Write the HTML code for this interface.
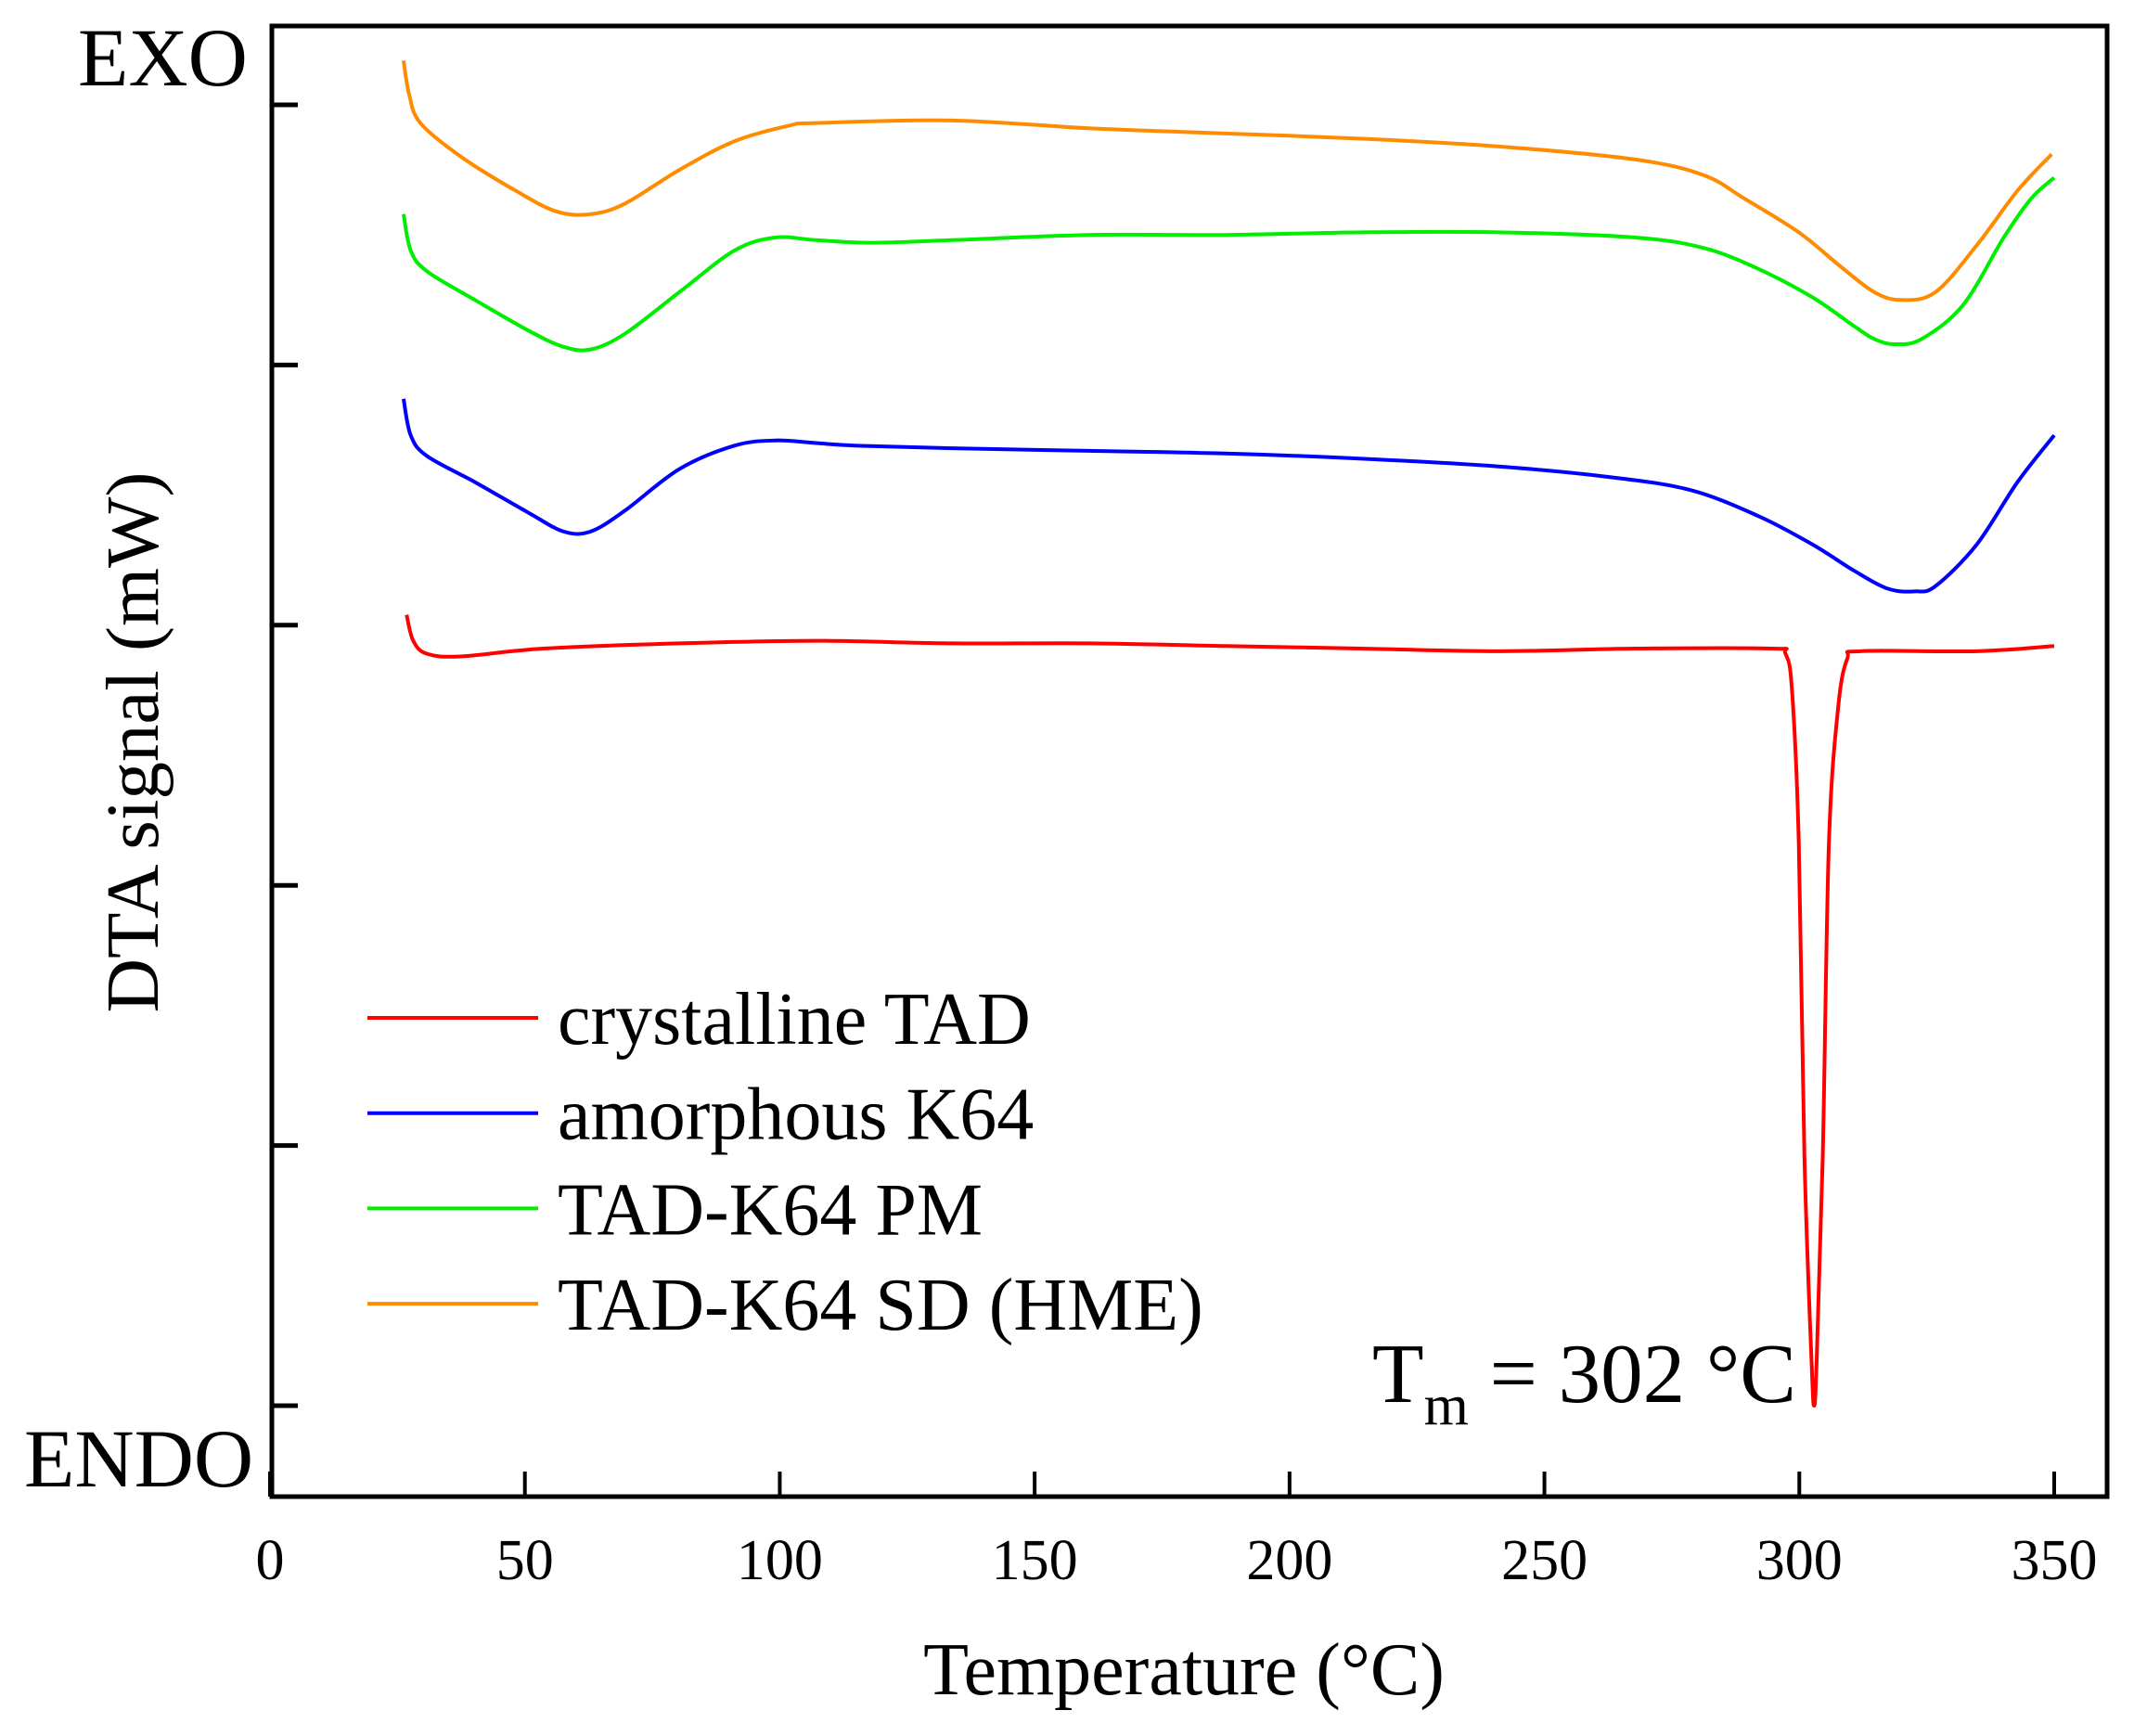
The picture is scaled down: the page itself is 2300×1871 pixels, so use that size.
<!DOCTYPE html>
<html><head><meta charset="utf-8"><style>
html,body{margin:0;padding:0;background:#fff}
svg{display:block}
text{font-family:"Liberation Serif",serif;fill:#000}
</style></head><body>
<svg id="chart" width="2300" height="1871" viewBox="0 0 2300 1871">
<g id="series"></g>
<rect x="293" y="28" width="1978" height="1585" fill="none" stroke="#000" stroke-width="5"/>
<g id="ticks"></g>
<text x="84" y="92" font-size="89">EXO</text>
<text x="26" y="1602" font-size="89">ENDO</text>
<text transform="translate(170,800) rotate(-90)" text-anchor="middle" font-size="81">DTA signal (mW)</text>
<text x="1276" y="1826" text-anchor="middle" font-size="80">Temperature (°C)</text>
<text x="1479" y="1511" font-size="91">T<tspan font-size="62" dy="24">m</tspan><tspan dy="-24"> = 302 °C</tspan></text>
<g id="legend"></g>
</svg>
<script>
const xTicks=[0,50,100,150,200,250,300,350];
const yTicks=[0,1,2,3,4,5];
const seriesNames=["crystalline TAD","amorphous K64","TAD-K64 PM","TAD-K64 SD (HME)"];
const seriesColors=["#ff0000","#0000ff","#00ee00","#ff8c00"];
const redT=[26.8,28.1,30.8,37.5,53.6,80.3,107.1,133.9,160.7,187.5,214.2,241.0,267.8,294.6,297.3,298.6,299.9,301.0,302.4,302.9,303.4,304.6,305.8,307.6,309.4,312.0,334.8,350.0];
const redV=[3.04,2.94,2.89,2.88,2.91,2.93,2.94,2.93,2.93,2.92,2.91,2.90,2.91,2.91,2.89,2.74,2.16,0.96,0.17,0.00,0.17,0.96,2.16,2.68,2.87,2.90,2.90,2.92];
const blueT=[26.2,27.6,30.8,40.2,50.9,57.6,62.9,69.6,80.3,91.1,99.1,107.1,115.2,133.9,160.7,187.5,214.2,241.0,262.5,278.5,291.9,302.6,310.7,317.4,322.7,326.7,334.8,342.8,350.0];
const blueV=[3.87,3.73,3.65,3.55,3.43,3.36,3.36,3.44,3.60,3.69,3.71,3.70,3.69,3.68,3.67,3.66,3.64,3.61,3.57,3.52,3.42,3.31,3.21,3.14,3.13,3.15,3.31,3.55,3.73];
const greenT=[26.2,27.6,30.8,40.2,50.9,57.6,62.9,69.6,80.3,91.1,99.1,107.1,117.8,133.9,160.7,187.5,214.2,241.0,267.8,281.2,291.9,302.6,310.7,314.7,318.7,324.0,332.1,340.1,345.5,350.0];
const greenV=[4.58,4.44,4.36,4.25,4.13,4.07,4.06,4.12,4.28,4.44,4.49,4.48,4.47,4.48,4.50,4.50,4.51,4.51,4.49,4.45,4.37,4.26,4.15,4.10,4.08,4.10,4.23,4.49,4.64,4.72];
const orangeT=[26.2,27.3,29.5,37.5,48.2,56.2,62.9,69.6,80.3,91.1,101.8,107.1,133.9,160.7,187.5,214.2,241.0,267.8,281.2,289.2,299.9,308.0,314.7,320.0,326.7,334.8,342.8,349.5];
const orangeV=[5.17,5.04,4.93,4.80,4.67,4.59,4.58,4.62,4.75,4.86,4.92,4.93,4.94,4.91,4.89,4.87,4.84,4.79,4.73,4.64,4.51,4.38,4.28,4.25,4.28,4.46,4.67,4.81];

const NS="http://www.w3.org/2000/svg";
const xs=t=>291+t*(2214-291)/350;
const ys=v=>1515-v*(1515-113)/5;
function mk(tag,attrs,parent){const e=document.createElementNS(NS,tag);for(const k in attrs)e.setAttribute(k,attrs[k]);parent.appendChild(e);return e;}
function pathD(T,V){
  const p=T.map((t,i)=>[xs(t),ys(V[i])]);
  let d="M"+p[0][0]+","+p[0][1];
  for(let i=0;i<p.length-1;i++){
    const a=p[Math.max(0,i-1)],b=p[i],c=p[i+1],e=p[Math.min(p.length-1,i+2)];
    const c1=[b[0]+(c[0]-a[0])/6,b[1]+(c[1]-a[1])/6],c2=[c[0]-(e[0]-b[0])/6,c[1]-(e[1]-b[1])/6];
    d+=" C"+c1[0]+","+c1[1]+" "+c2[0]+","+c2[1]+" "+c[0]+","+c[1];
  }
  return d;
}
const sg=document.getElementById("series");
const allT=[redT,blueT,greenT,orangeT],allV=[redV,blueV,greenV,orangeV];
const sNames=["crystalline-tad-curve","amorphous-k64-curve","tad-k64-pm-curve","tad-k64-sd-curve"];
for(let i=0;i<4;i++){
  const p=mk("path",{d:pathD(allT[i],allV[i]),fill:"none",stroke:seriesColors[i],"stroke-width":4,"stroke-linejoin":"round"},sg);
  
  
}
const tg=document.getElementById("ticks");
xTicks.forEach(t=>{
  const l=mk("line",{x1:xs(t),x2:xs(t),y1:1613,y2:1586,stroke:"#000","stroke-width":4},tg);
  
  
  const tx=mk("text",{x:xs(t),y:1702,"text-anchor":"middle","font-size":62},tg);
  tx.textContent=t;
  
  
});
yTicks.forEach(v=>{
  const l=mk("line",{x1:293,x2:321,y1:ys(v),y2:ys(v),stroke:"#000","stroke-width":5},tg);
  
  
});
const lg=document.getElementById("legend");
seriesNames.forEach((n,i)=>{
  const y=1097+i*102.7;
  const l=mk("line",{x1:396,x2:580,y1:y,y2:y,stroke:seriesColors[i],"stroke-width":4},lg);
  
  
  const tx=mk("text",{x:601,y:y+28,"font-size":80},lg);
  tx.textContent=n;
  
  
});
</script>
</body></html>
